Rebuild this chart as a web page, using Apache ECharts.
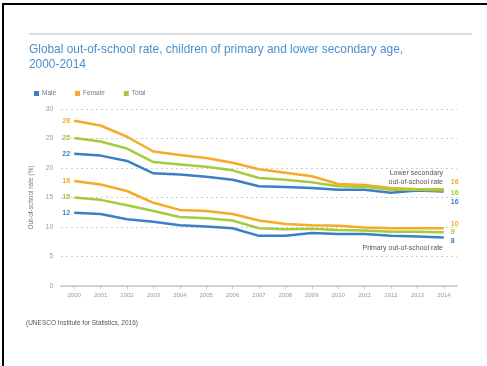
<!DOCTYPE html>
<html>
<head>
<meta charset="utf-8">
<script src="https://cdn.jsdelivr.net/npm/echarts@6/dist/echarts.min.js"></script>
<style>
html,body{margin:0;padding:0;background:#fff;}
#c{width:487px;height:366px;}
</style>
</head>
<body>
<div id="c"></div>
<script>
var years = ['2000','2001','2002','2003','2004','2005','2006','2007','2008','2009','2010','2011','2012','2013','2014'];
var yTicks = [0, 5, 10, 15, 20, 25, 30];

var lowerFemale = [28.0, 27.2, 25.3, 22.8, 22.2, 21.7, 20.9, 19.8, 19.2, 18.6, 17.3, 17.1, 16.6, 16.4, 16.4];
var lowerTotal  = [25.1, 24.5, 23.3, 21.0, 20.6, 20.2, 19.6, 18.3, 18.0, 17.6, 16.9, 16.8, 16.3, 16.3, 16.2];
var lowerMale   = [22.4, 22.1, 21.2, 19.1, 18.9, 18.5, 18.0, 16.9, 16.8, 16.6, 16.3, 16.3, 15.8, 16.2, 16.0];
var primaryFemale = [17.8, 17.2, 16.1, 14.1, 12.9, 12.7, 12.2, 11.1, 10.5, 10.3, 10.2, 9.9, 9.8, 9.8, 9.8];
var primaryTotal  = [15.0, 14.6, 13.7, 12.7, 11.7, 11.5, 11.1, 9.8, 9.6, 9.7, 9.5, 9.4, 9.2, 9.2, 9.1];
var primaryMale   = [12.4, 12.2, 11.3, 10.9, 10.3, 10.1, 9.8, 8.5, 8.5, 9.0, 8.8, 8.8, 8.5, 8.4, 8.2];

var seriesNames = ['Male', 'Female', 'Total'];
var colors = {Male: '#3b7fc4', Female: '#f7a928', Total: '#a3cb3a'};

function mk(name, values, rightDy) {
  var c = colors[name];
  var n = values.length;
  var data = values.map(function (v, i) {
    if (i === 0) {
      return {value: v, label: {show: true, position: 'left', distance: 4}};
    }
    if (i === n - 1) {
      return {value: v, label: {show: true, position: 'right', distance: 7}};
    }
    return v;
  });
  return {
    name: name,
    type: 'line',
    data: data,
    symbol: 'circle',
    symbolSize: 0.1,
    showSymbol: true,
    showAllSymbol: true,
    lineStyle: {width: 2.5, color: c},
    itemStyle: {color: c},
    label: {
      show: false,
      color: c,
      fontSize: 7,
      fontWeight: 'bold',
      fontFamily: 'Liberation Sans',
      formatter: function (p) { return String(Math.round(p.value)); }
    },
    labelLayout: function (p) {
      if (p.dataIndex === n - 1) {
        return {dy: rightDy, hideOverlap: false};
      }
      return {hideOverlap: false};
    },
    emphasis: {disabled: true},
    z: 3
  };
}

var chart = echarts.init(document.getElementById('c'), null, {renderer: 'canvas'});
chart.setOption({
  animation: false,
  backgroundColor: '#ffffff',
  textStyle: {fontFamily: 'Liberation Sans'},
  color: [colors.Male, colors.Female, colors.Total],
  legend: {
    data: seriesNames,
    left: 29,
    top: 85,
    itemWidth: 5,
    itemHeight: 5,
    itemGap: 19,
    icon: 'rect',
    textStyle: {fontSize: 6.5, color: '#777', padding: [0, 0, 0, -2]},
    selectedMode: false
  },
  grid: {left: 61, right: 30, top: 109, bottom: 80},
  xAxis: {
    type: 'category',
    data: years,
    boundaryGap: true,
    axisLine: {lineStyle: {color: '#c8c8c8', width: 1.5}},
    axisTick: {show: true, alignWithLabel: true, length: 3, lineStyle: {color: '#c8c8c8'}},
    axisLabel: {fontSize: 6, color: '#9a9a9a', margin: 6}
  },
  yAxis: {
    type: 'value',
    min: 0,
    max: 30,
    interval: 5,
    name: 'Out-of-school rate (%)',
    nameLocation: 'middle',
    nameGap: 25,
    nameTextStyle: {fontSize: 6.5, color: '#777'},
    axisLine: {show: false},
    axisTick: {show: false},
    axisLabel: {fontSize: 6.5, color: '#9a9a9a', margin: 8,
      formatter: function (v) { return yTicks.indexOf(v) >= 0 ? String(v) : ''; }},
    splitLine: {lineStyle: {color: '#cfcfcf', type: [2, 3], width: 1}}
  },
  graphic: [
    {type: 'rect', shape: {x: 2, y: 3, width: 485, height: 2}, style: {fill: '#000'}},
    {type: 'rect', shape: {x: 2, y: 3, width: 2, height: 363}, style: {fill: '#000'}},
    {type: 'rect', shape: {x: 29, y: 33, width: 443, height: 2}, style: {fill: '#dcdcdc'}},
    {type: 'text', left: 29, top: 42, style: {
      text: 'Global out-of-school rate, children of primary and lower secondary age,\n2000-2014',
      fontSize: 11.9, lineHeight: 15, fill: '#4a8fcb', fontFamily: 'Liberation Sans'}},
    {type: 'text', x: 443, y: 173, style: {text: 'Lower secondary', fontSize: 7, fill: '#555',
      align: 'right', verticalAlign: 'middle', fontFamily: 'Liberation Sans'}},
    {type: 'text', x: 443, y: 182, style: {text: 'out-of-school rate', fontSize: 7, fill: '#555',
      align: 'right', verticalAlign: 'middle', fontFamily: 'Liberation Sans'}},
    {type: 'text', x: 443, y: 248, style: {text: 'Primary out-of-school rate', fontSize: 7, fill: '#555',
      align: 'right', verticalAlign: 'middle', fontFamily: 'Liberation Sans'}},
    {type: 'text', x: 26, y: 323, style: {text: '(UNESCO Institute for Statistics, 2016)', fontSize: 6.5, fill: '#555',
      verticalAlign: 'middle', fontFamily: 'Liberation Sans'}}
  ],
  series: [
    mk('Male', lowerMale, 10),
    mk('Female', lowerFemale, -7),
    mk('Total', lowerTotal, 3),
    mk('Male', primaryMale, 3),
    mk('Female', primaryFemale, -4),
    mk('Total', primaryTotal, 0)
  ]
});
</script>
</body>
</html>
